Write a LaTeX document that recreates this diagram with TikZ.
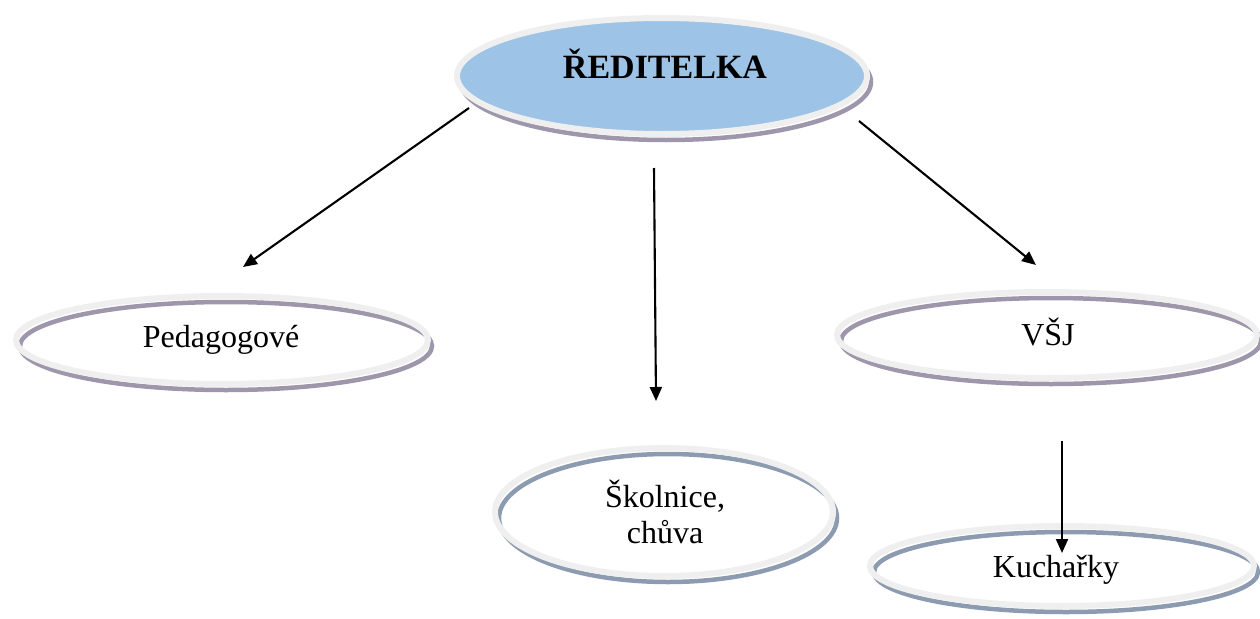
\documentclass[tikz,border=0pt]{standalone}
\usepackage{fontspec}
\setmainfont{Liberation Serif}
\usetikzlibrary{shapes.geometric,arrows.meta,shadows}
\definecolor{rim}{HTML}{EFEFEF}
\definecolor{shpurple}{HTML}{9E96AA}
\definecolor{shblue}{HTML}{8C9BAF}
\definecolor{headblue}{HTML}{9DC3E6}
\tikzset{
  ring/.style={ellipse, inner sep=0pt, outer sep=0pt, draw=rim, line width=6pt},
  shadowp/.style={general shadow={shadow xshift=4pt, shadow yshift=-6pt, draw=shpurple, line width=4.5pt, fill=none}},
  shadowb/.style={general shadow={shadow xshift=4pt, shadow yshift=-6pt, draw=shblue, line width=4.5pt, fill=none}},
  label/.style={font=\fontsize{32}{36}\selectfont, align=center, inner sep=0pt},
  boldlabel/.style={font=\fontsize{34}{38}\selectfont\bfseries, inner sep=0pt},
  arr/.style={line width=2.1pt, -{Triangle[length=14pt,width=12pt]}}
}
\begin{document}
\begin{tikzpicture}[x=1pt,y=1pt]
\useasboundingbox (0,0) rectangle (1260,-618);
% ellipses
\node[ring, shadowp, fill=headblue, minimum width=410pt, minimum height=116pt] (dir) at (662,-76) {};
\node[boldlabel] (dirt) at (665,-64) {ŘEDITELKA};
\node[ring, shadowp, minimum width=412pt, minimum height=88pt] (ped) at (222,-340) {};
\node[label] (pedt) at (221,-340) {Pedagogové};
\node[ring, shadowp, minimum width=420pt, minimum height=86pt] (vsj) at (1047,-335) {};
\node[label] (vsjt) at (1048,-332) {VŠJ};
\node[ring, shadowb, minimum width=338pt, minimum height=128pt] (sko) at (664,-512) {};
\node[label] (skot) at (665,-512) {Školnice,\\chůva};
\node[ring, shadowb, minimum width=384pt, minimum height=80pt] (kuch) at (1062,-566) {};
\node[label] (kucht) at (1056,-570) {Kuchařky};
% connector end points
\coordinate (a1) at (469,-108);
\coordinate (a2) at (243,-267);
\coordinate (b1) at (654,-168);
\coordinate (b2) at (656,-401);
\coordinate (c1) at (859,-121);
\coordinate (c2) at (1036,-265);
\coordinate (d1) at (1062,-441);
\coordinate (d2) at (1062,-553);
\draw[arr] (a1) -- (a2);
\draw[arr] (b1) -- (b2);
\draw[arr] (c1) -- (c2);
\draw[arr] (d1) -- (d2);
\end{tikzpicture}
\end{document}
